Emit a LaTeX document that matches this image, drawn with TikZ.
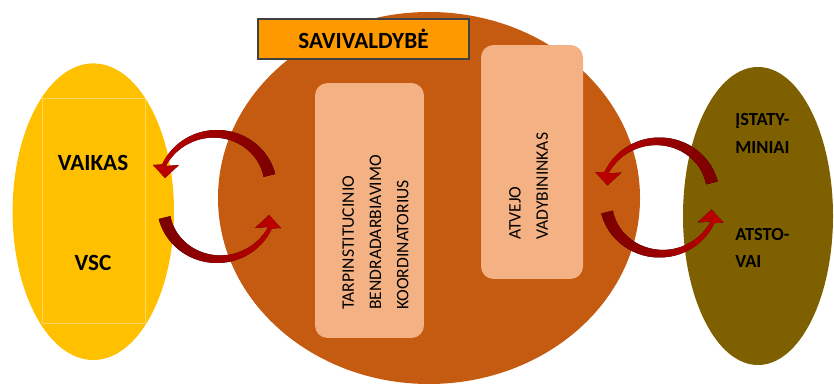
\documentclass[tikz,border=0pt]{standalone}
\usepackage{fontspec}
\setmainfont{Carlito}
\definecolor{kidyellow}{HTML}{FFC000}
\definecolor{kidline}{HTML}{FFD75C}
\definecolor{townbrown}{HTML}{C55A11}
\definecolor{lawolive}{HTML}{7F6000}
\definecolor{palepeach}{HTML}{F4B183}
\definecolor{titleorange}{HTML}{FF9900}
\definecolor{titleline}{HTML}{404040}
\definecolor{arrowlight}{HTML}{C00000}
\definecolor{arrowdark}{HTML}{7A0000}
\tikzset{
  palebox/.style={rectangle, rounded corners=0.25cm, fill=palepeach, inner sep=0pt},
  vtext/.style={rotate=90, align=left, anchor=west, inner sep=0pt, font=\fontsize{10}{15.5}\selectfont},
  sidetext/.style={align=left, anchor=north west, inner sep=0pt, font=\bfseries\fontsize{10.5}{15.6}\selectfont},
  bigtext/.style={inner sep=0pt, font=\bfseries\fontsize{13.2}{16}\selectfont},
  arrowshade/.style={left color=arrowlight, right color=arrowdark},
  flipshade/.style={arrowshade/.style={left color=arrowdark, right color=arrowlight}},
  cyclearrow/.pic={
    \fill[arrowshade]
      plot[domain=14:156, samples=60] ({60*cos(\x)}, {58*sin(\x)})
      -- (-64,23) -- (-52,10) -- (-38,23)
      -- plot[domain=156:14, samples=60] ({(48+8*(\x-14)/142)*cos(\x)}, {(46+8*(\x-14)/142)*sin(\x)})
      -- cycle;
  }
}
\begin{document}
\begin{tikzpicture}[x=0.02cm, y=0.02cm]
	\useasboundingbox (0,0) rectangle (834,385);
	\fill[townbrown] (429,187) ellipse [x radius=211, y radius=186];
	\fill[kidyellow] (93.3,173.3) ellipse [x radius=80.7, y radius=148.3];
	\draw[kidline, line width=0.5pt] (42,62) rectangle (145,287);
	\fill[lawolive] (758,169) ellipse [x radius=75, y radius=149];

	\node[rectangle, fill=titleorange, draw=titleline, line width=0.8pt, minimum width=4.22cm, minimum height=0.8cm] (title) at (363.5,346) {};
	\node[bigtext] (titletext) at (363.5,346) {SAVIVALDYBĖ};

	\node[palebox, minimum width=2.18cm, minimum height=5.1cm] (coordbox) at (369.5,174.5) {};
	\node[vtext] (coordtext) at (375.5,75) {TARPINSTITUCINIO\\BENDRADARBIAVIMO\\KOORDINATORIUS};
	\node[palebox, minimum width=2.04cm, minimum height=4.68cm] (casebox) at (532,223) {};
	\node[vtext] (casetext) at (528.5,145) {ATVEJO\\VADYBININKAS};

	\node[bigtext] (child) at (93,222) {VAIKAS};
	\node[bigtext] (vsc) at (93,122) {VSC};
	\node[sidetext] (statutory) at (735,271.7) {ĮSTATY-\\MINIAI};
	\node[sidetext] (reps) at (735,157.3) {ATSTO-\\VAI};

	\pic at (217,197) {cyclearrow};
	\pic[rotate=180, flipshade] at (217,180) {cyclearrow};
	\pic at (659.5,189.5) {cyclearrow};
	\pic[rotate=180, flipshade] at (659.5,185.5) {cyclearrow};
\end{tikzpicture}
\end{document}
